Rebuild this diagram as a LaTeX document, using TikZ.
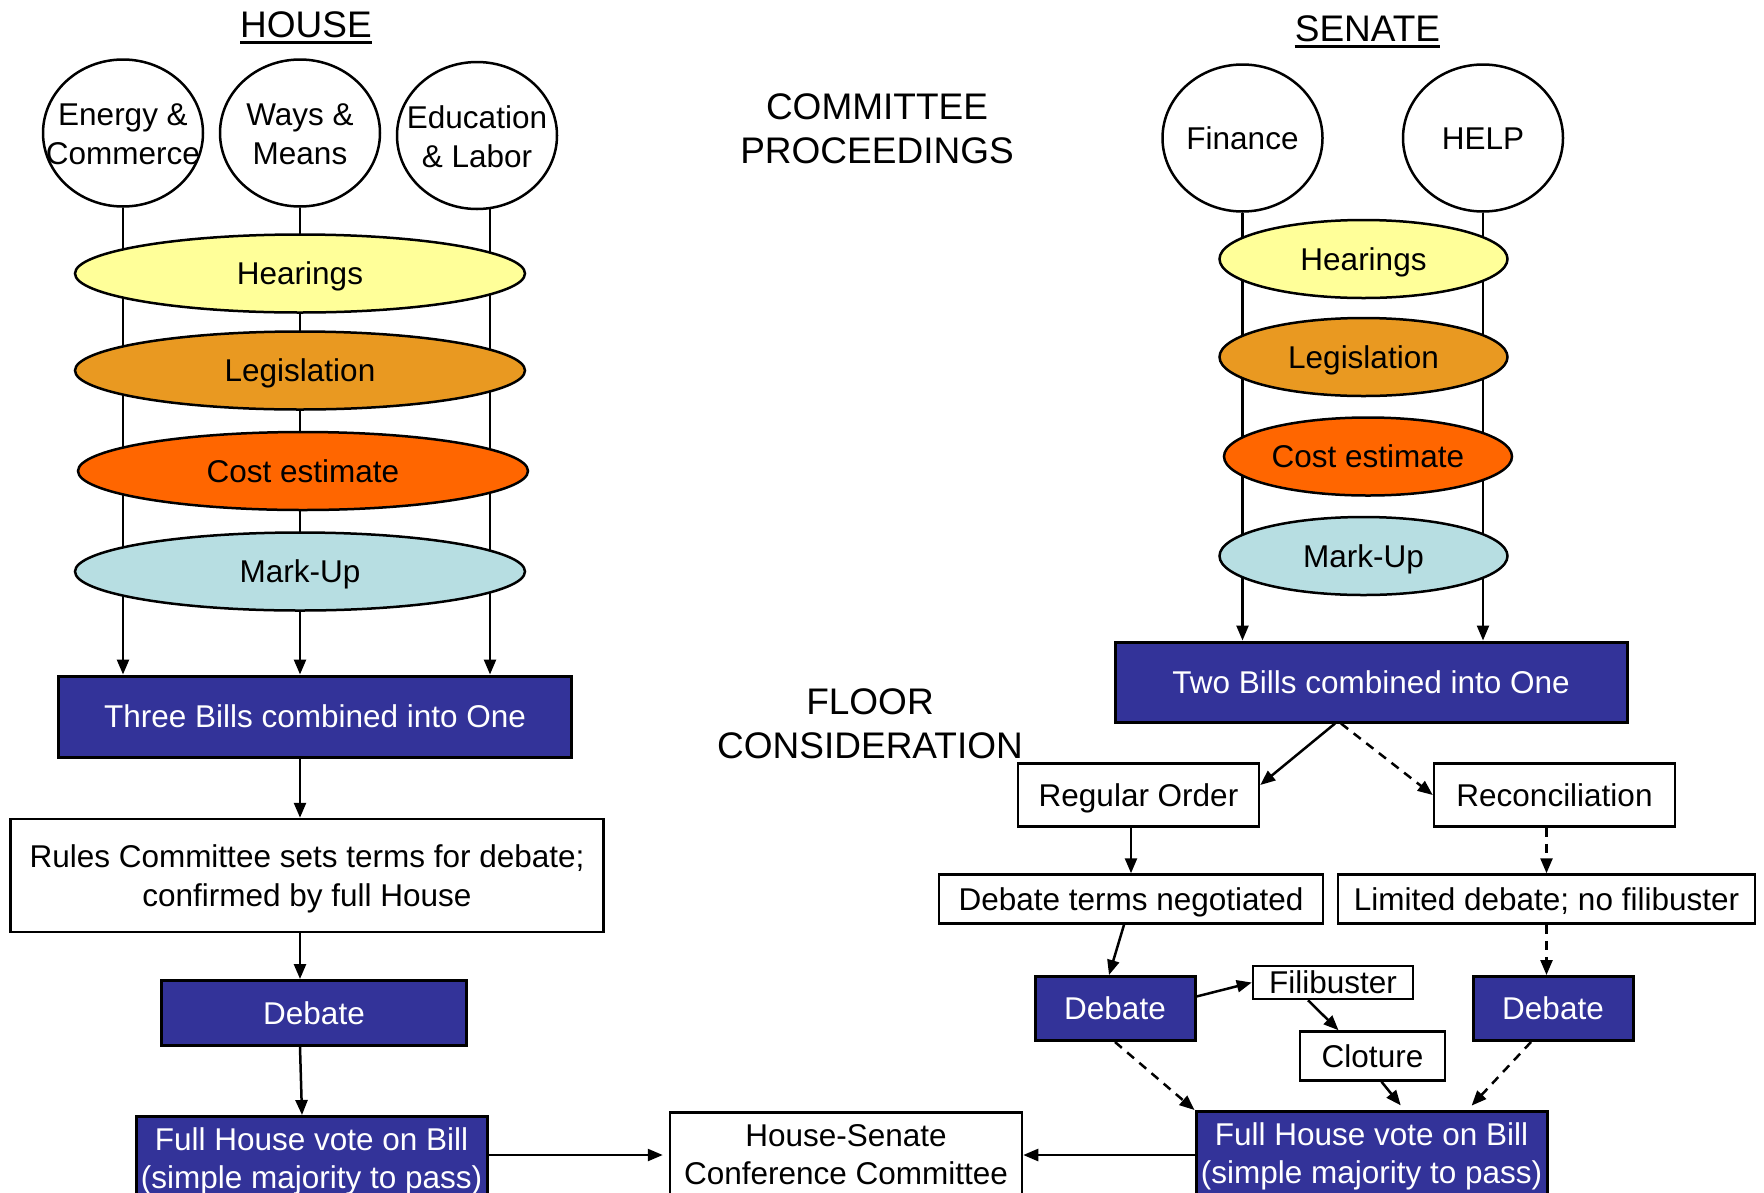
\documentclass[tikz,border=0pt]{standalone}
\usepackage{fontspec}
\setmainfont{Liberation Sans}
\usetikzlibrary{shapes.geometric,arrows.meta}
\definecolor{hear}{RGB}{255,255,153}
\definecolor{legis}{RGB}{233,153,33}
\definecolor{cost}{RGB}{255,102,0}
\definecolor{markup}{RGB}{183,222,226}
\definecolor{navy}{RGB}{51,51,153}
\begin{document}
\begin{tikzpicture}[x=1pt,y=-1pt,
  every node/.style={font=\fontsize{31.5}{38.5}\selectfont, inner sep=0pt, text depth=0pt},
  one/.style={text height=22.5pt},
  comm/.style={ellipse, draw, line width=2.5pt, minimum width=160pt, minimum height=147pt, fill=white},
  stage/.style={ellipse, draw, line width=2.5pt, minimum height=78pt, one},
  bluebox/.style={rectangle, draw=black, line width=3pt, fill=navy, text=white, align=center},
  whitebox/.style={rectangle, draw=black, line width=2.5pt, fill=white, align=center},
  title/.style={font=\fontsize{37}{44}\selectfont, anchor=base},
  conn/.style={line width=2.5pt, -{Triangle[length=15pt,width=12pt]}},
  dconn/.style={conn, dash pattern=on 9pt off 7pt},
]
\clip (0,0) rectangle (1764,1192);
\fill[white] (0,0) rectangle (1764,1192);

% titles
\node[title] (hT) at (306,37) {HOUSE};
\draw[line width=3pt] ([yshift=-5pt]hT.base west) -- ([yshift=-5pt]hT.base east);
\node[title] (sT) at (1367.5,41) {SENATE};
\draw[line width=3pt] ([yshift=-5pt]sT.base west) -- ([yshift=-5pt]sT.base east);
\node[title] (cp1) at (877,119) {COMMITTEE};
\node[title] (cp2) at (877,163) {PROCEEDINGS};
\node[title] (fc1) at (870,714) {FLOOR};
\node[title] (fc2) at (870,758) {CONSIDERATION};

% house committees
\node[comm] (ec) at (123,133) {};
\node[align=center] (ect) at ([yshift=-1pt]ec.center) {Energy \&\\Commerce};
\node[comm] (wm) at (300,133) {};
\node[align=center] (wmt) at ([yshift=-1pt]wm.center) {Ways \&\\Means};
\node[comm] (el) at (477,135.5) {};
\node[align=center] (elt) at ([yshift=-1pt]el.center) {Education\\\& Labor};

% senate committees
\node[comm] (fin) at (1242.5,138) {};
\node[one] (fint) at (fin) {Finance};
\node[comm] (help) at (1483,138) {};
\node[one] (helpt) at (help) {HELP};

% house floor
\node[bluebox, one, minimum width=513pt, minimum height=81pt] (three) at (315,716.5) {Three Bills combined into One};
\node[whitebox, minimum width=593pt, minimum height=113pt] (rules) at (307,875.5) {Rules Committee sets terms for debate;\\confirmed by full House};
\node[bluebox, one, minimum width=305pt, minimum height=65pt] (hdeb) at (314,1013) {Debate};
\node[bluebox, minimum width=351pt, inner ysep=11pt, anchor=north] (hvote) at (311.5,1115) {Full House vote on Bill\\(simple majority to pass)};
\node[whitebox, minimum width=352pt, inner ysep=12pt, anchor=north] (conf) at (846,1111) {House-Senate\\Conference Committee};

% senate floor
\node[bluebox, one, minimum width=512pt, minimum height=80pt] (two) at (1371,682) {Two Bills combined into One};
\node[whitebox, one, minimum width=241pt, minimum height=63pt] (reg) at (1138.5,795) {Regular Order};
\node[whitebox, one, minimum width=241pt, minimum height=63pt] (rec) at (1554.5,795) {Reconciliation};
\node[whitebox, one, minimum width=384pt, minimum height=49pt] (dtn) at (1131,899) {Debate terms negotiated};
\node[whitebox, one, minimum width=417pt, minimum height=49pt] (ldn) at (1546.5,899) {Limited debate; no filibuster};
\node[bluebox, one, minimum width=160pt, minimum height=64pt] (sdeb1) at (1115,1008.5) {Debate};
\node[whitebox, one, minimum width=160pt, minimum height=33pt] (fil) at (1333,982.5) {Filibuster};
\node[whitebox, one, minimum width=145pt, minimum height=49pt] (clo) at (1372.5,1056) {Cloture};
\node[bluebox, one, minimum width=160pt, minimum height=64pt] (sdeb2) at (1553,1008.5) {Debate};
\node[bluebox, minimum width=351pt, inner ysep=11pt, anchor=north] (svote) at (1371.5,1110) {Full House vote on Bill\\(simple majority to pass)};

% committee lines
\draw[conn] (ec.south) -- (ec.south |- three.north);
\draw[conn] (wm.south) -- (wm.south |- three.north);
\draw[conn] (el.-80) -- (el.-80 |- three.north);
\draw[conn] (fin.south) -- (fin.south |- two.north);
\draw[conn] (help.south) -- (help.south |- two.north);

% stages
\node[stage, fill=hear, minimum width=450pt] (hH) at (300,273.5) {Hearings};
\node[stage, fill=legis, minimum width=450pt] (hL) at (300,370.5) {Legislation};
\node[stage, fill=cost, minimum width=450pt] (hC) at (303,471) {Cost estimate};
\node[stage, fill=markup, minimum width=450pt] (hM) at (300,571.5) {Mark-Up};
\node[stage, fill=hear, minimum width=288pt] (sH) at (1363.5,259) {Hearings};
\node[stage, fill=legis, minimum width=288pt] (sL) at (1363.5,357) {Legislation};
\node[stage, fill=cost, minimum width=288pt] (sC) at (1368,456.5) {Cost estimate};
\node[stage, fill=markup, minimum width=288pt] (sM) at (1363.5,556) {Mark-Up};

% house flow
\coordinate (cy) at (0,1155);
\draw[conn] (wm.south |- three.south) -- (wm.south |- rules.north);
\draw[conn] (wm.south |- rules.south) -- (wm.south |- hdeb.north);
\draw[conn] (wm.south |- hdeb.south) -- ([xshift=2pt]wm.south |- hvote.north);
\draw[conn, shorten >=6pt] (hvote.east |- cy) -- (conf.west |- cy);
\draw[conn] (svote.west |- cy) -- (conf.east |- cy);

% senate flow
\draw[conn] ([xshift=-36pt]two.south) -- ([yshift=10pt]reg.east);
\draw[dconn] ([xshift=-30pt]two.south) -- (rec.west);
\draw[conn] (dtn.north |- reg.south) -- (dtn.north);
\draw[dconn] (ldn.north |- rec.south) -- (ldn.north);
\draw[conn] ([xshift=-7pt]dtn.south) -- ([xshift=-6pt]sdeb1.north);
\draw[conn] ([yshift=12pt]sdeb1.east) -- (fil.west);
\draw[conn] ([xshift=-25pt]fil.south) -- ([xshift=-34pt]clo.north);
\draw[conn, shorten >=6pt] ([xshift=9pt]clo.south) -- ([xshift=33pt]svote.north);
\draw[dconn] (ldn.south) -- (ldn.south |- sdeb2.north);
\draw[dconn] (sdeb1.south) -- (svote.north west);
\draw[dconn, shorten >=6pt] ([xshift=-22pt]sdeb2.south) -- ([xshift=96pt]svote.north);
\end{tikzpicture}
\end{document}
